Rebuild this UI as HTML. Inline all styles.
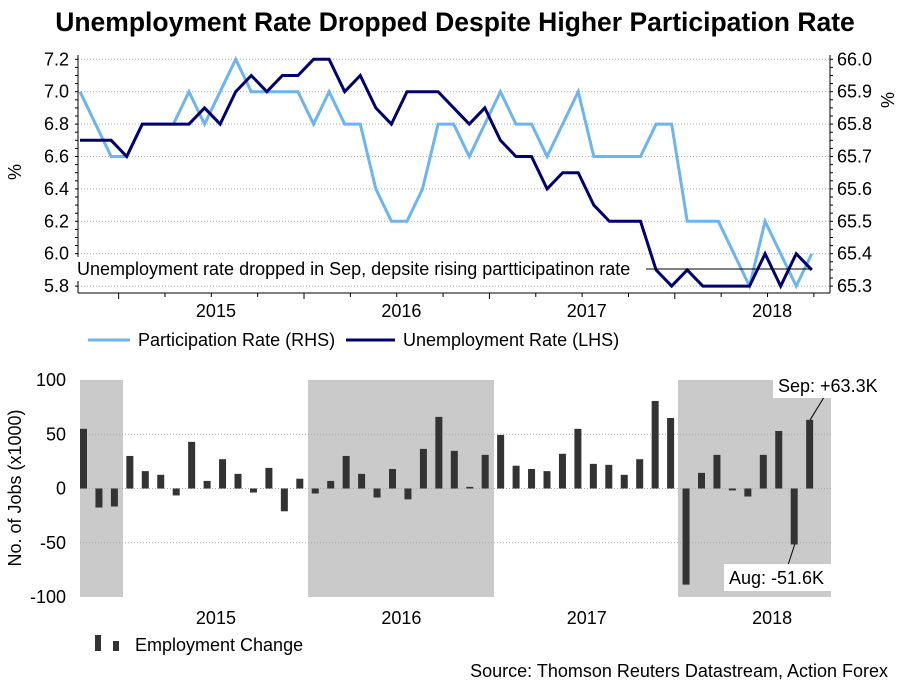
<!DOCTYPE html>
<html><head><meta charset="utf-8"><style>
body{margin:0;background:#fff;}
svg text{font-family:"Liberation Sans",Arial,sans-serif;}
</style></head><body>
<svg id="c" width="909" height="682" viewBox="0 0 909 682" xmlns="http://www.w3.org/2000/svg">
<text x="455" y="31" font-size="26.5" font-weight="bold" text-anchor="middle">Unemployment Rate Dropped Despite Higher Participation Rate</text>
<g id="topPanel"></g>
<g id="botPanel"></g>
<text x="888" y="677" font-size="18" text-anchor="end">Source: Thomson Reuters Datastream, Action Forex</text>
</svg>
<script>
const years = ["2015","2016","2017","2018"];
const unemp = [6.7,6.7,6.7,6.6,6.8,6.8,6.8,6.8,6.9,6.8,7.0,7.1,7.0,7.1,7.1,7.2,7.2,7.0,7.1,6.9,6.8,7.0,7.0,7.0,6.9,6.8,6.9,6.7,6.6,6.6,6.4,6.5,6.5,6.3,6.2,6.2,6.2,5.9,5.8,5.9,5.8,5.8,5.8,5.8,6.0,5.8,6.0,5.9];
const partic = [65.9,65.8,65.7,65.7,65.8,65.8,65.8,65.9,65.8,65.9,66.0,65.9,65.9,65.9,65.9,65.8,65.9,65.8,65.8,65.6,65.5,65.5,65.6,65.8,65.8,65.7,65.8,65.9,65.8,65.8,65.7,65.8,65.9,65.7,65.7,65.7,65.7,65.8,65.8,65.5,65.5,65.5,65.4,65.3,65.5,65.4,65.3,65.4];
const jobs = [55,-17.5,-16.6,30,16,12.6,-6.4,43,7,27,13.5,-3.7,19,-21,9,-4.6,7,30,13.5,-8.3,18,-10,36.5,66,34.7,1.5,31,49.4,21,18,16,32,55,22.7,21.8,12.6,27,80.7,65,-88.6,14.4,31,-1.8,-7.4,31,53,-51.6,63.3];
const leftTicks = ["7.2","7.0","6.8","6.6","6.4","6.2","6.0","5.8"];
const rightTicks = ["66.0","65.9","65.8","65.7","65.6","65.5","65.4","65.3"];
const jobTicks = [100,50,0,-50,-100];

const NS="http://www.w3.org/2000/svg";
function mk(p,tag,a,txt){const e=document.createElementNS(NS,tag);for(const k in a)e.setAttribute(k,a[k]);if(txt!==undefined)e.textContent=txt;p.appendChild(e);return e;}
const X=i=>80+15.57*i;
const XB=i=>80+15.45*i;
const yL=v=>59.3+(7.2-v)/0.2*32.4;
const yR=v=>59.3+(66.0-v)/0.1*32.4;
const yJ=v=>488.5-v*1.085;
const FS=18;
const topG=document.getElementById('topPanel'), botG=document.getElementById('botPanel');

leftTicks.forEach((t,k)=>{const y=yL(parseFloat(t));
 let g=mk(topG,'line',{x1:78,x2:830,y1:y,y2:y,stroke:'#aaa','stroke-dasharray':'1,2'});
 
 
 let l=mk(topG,'text',{x:69,y:y+6,'font-size':FS,'text-anchor':'end'},t);
 
 
 let r=mk(topG,'text',{x:837,y:y+6,'font-size':FS},rightTicks[k]);
 
 
});
for(let v=5.8;v<=7.2001;v+=0.05){const y=yL(v);mk(topG,'line',{x1:75,x2:78,y1:y,y2:y,stroke:'#000'});mk(topG,'line',{x1:830,x2:833,y1:y,y2:y,stroke:'#000'});}
mk(topG,'line',{x1:78,x2:78,y1:55,y2:293,stroke:'#000'});
mk(topG,'line',{x1:830,x2:830,y1:55,y2:293,stroke:'#000'});
mk(topG,'line',{x1:78,x2:830,y1:293,y2:293,stroke:'#000'});
for(let q=0;q<16;q++){const x=XB(2.5+q*3);if(x>830)break;mk(topG,'line',{x1:x,x2:x,y1:293,y2:q%4==0?299:297,stroke:'#000'});}
years.forEach((y,k)=>{let t=mk(topG,'text',{x:XB(8.8+12*k),y:317,'font-size':FS,'text-anchor':'middle'},y);
 
 });
let py=mk(topG,'text',{x:21,y:172,'font-size':FS,transform:'rotate(-90 21 172)','text-anchor':'middle'},'%');


let ry=mk(topG,'text',{x:894,y:100,'font-size':FS,transform:'rotate(-90 894 100)','text-anchor':'middle'},'%');



let pp=mk(topG,'polyline',{points:partic.map((v,i)=>X(i)+','+yR(v)).join(' '),fill:'none',stroke:'#6cb4f2','stroke-width':3});


let up=mk(topG,'polyline',{points:unemp.map((v,i)=>X(i)+','+yL(v)).join(' '),fill:'none',stroke:'#000070','stroke-width':3});



let ab=mk(topG,'rect',{x:74,y:257,width:572,height:24,fill:'#fff'});


let al=mk(topG,'line',{x1:646,x2:812,y1:269,y2:269,stroke:'#000'});


let at=mk(topG,'text',{x:77,y:275,'font-size':FS},'Unemployment rate dropped in Sep, depsite rising partticipatinon rate');



let l1=mk(topG,'line',{x1:88,x2:130,y1:340,y2:340,stroke:'#6cb4f2','stroke-width':3});


let l1t=mk(topG,'text',{x:138,y:346,'font-size':FS},'Participation Rate (RHS)');


let l2=mk(topG,'line',{x1:346,x2:395,y1:340,y2:340,stroke:'#000070','stroke-width':3});


let l2t=mk(topG,'text',{x:403,y:346,'font-size':FS},'Unemployment Rate (LHS)');



[[80,123],[308,494],[678,831]].forEach(s=>{let r=mk(botG,'rect',{x:s[0],y:380,width:s[1]-s[0],height:217,fill:'#cacaca'});
 
 });
jobTicks.forEach(v=>{const y=yJ(v);
 if(v!==100&&v!==-100){let g=mk(botG,'line',{x1:80,x2:831,y1:y,y2:y,stroke:'#aaa','stroke-dasharray':'1,2'});
 
 }
 let t=mk(botG,'text',{x:66,y:y+6,'font-size':FS,'text-anchor':'end'},String(v));
 
 });
jobs.forEach((v,i)=>{const y0=yJ(0),y1=yJ(v);
 let b=mk(botG,'rect',{x:XB(i),y:Math.min(y0,y1),width:7,height:Math.max(1,Math.abs(y1-y0)),fill:'#333'});
 
 });
years.forEach((y,k)=>{let t=mk(botG,'text',{x:XB(8.8+12*k),y:624,'font-size':FS,'text-anchor':'middle'},y);
 
 });
let yt=mk(botG,'text',{x:21,y:488,'font-size':FS,transform:'rotate(-90 21 488)','text-anchor':'middle'},'No. of Jobs (x1000)');


const n=jobs.length;
let s1=mk(botG,'line',{x1:XB(n-1)+4,y1:yJ(jobs[n-1]),x2:XB(n-1)+18,y2:397,stroke:'#000'});


let sb=mk(botG,'rect',{x:773,y:373,width:118,height:25,fill:'#fff'});


let st=mk(botG,'text',{x:778,y:392,'font-size':FS},'Sep: +'+jobs[n-1]+'K');


let a1=mk(botG,'line',{x1:XB(n-2)+4,y1:yJ(jobs[n-2]),x2:XB(n-2)-3,y2:566,stroke:'#000'});


let abx=mk(botG,'rect',{x:724,y:564,width:108,height:27,fill:'#fff'});


let atx=mk(botG,'text',{x:729,y:584,'font-size':FS},'Aug: '+jobs[n-2]+'K');


mk(botG,'rect',{x:95,y:635,width:6,height:16,fill:'#333'});
mk(botG,'rect',{x:113,y:641,width:6,height:10,fill:'#333'});
let lt=mk(botG,'text',{x:135,y:651,'font-size':FS},'Employment Change');


</script>
</body></html>
